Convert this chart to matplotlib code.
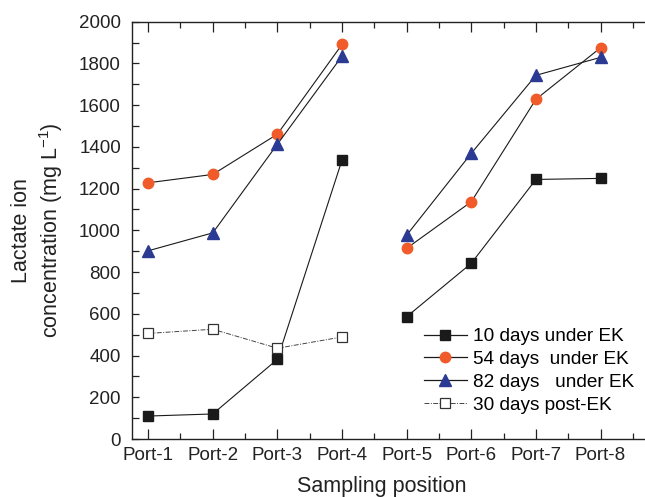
import numpy as np
import matplotlib
matplotlib.use("Agg")
import matplotlib.pyplot as plt
from matplotlib.lines import Line2D
from matplotlib.ticker import MultipleLocator

plt.rcParams["font.family"] = ["Liberation Sans", "DejaVu Sans"]
plt.rcParams["mathtext.fontset"] = "custom"
plt.rcParams["mathtext.rm"] = "Liberation Sans"
plt.rcParams["mathtext.it"] = "Liberation Sans:italic"

ports = ["Port-1", "Port-2", "Port-3", "Port-4", "Port-5", "Port-6", "Port-7", "Port-8"]
days10 = [110, 120, 382, 1337, 586, 842, 1244, 1249]
days54 = [1228, 1268, 1461, 1891, 914, 1137, 1628, 1875]
days82 = [902, 988, 1413, 1835, 977, 1369, 1743, 1829]
post30 = [506, 526, 435, 489]

labels = ["10 days under EK", "54 days  under EK", "82 days   under EK", "30 days post-EK"]

orange = "#F15A29"
navy = "#2B3A92"
ink = "#1a1a1a"

fig = plt.figure(figsize=(6.45, 4.97), dpi=100)
ax = fig.add_axes([132 / 645, 1 - 439 / 497, (649 - 132) / 645, (439 - 21.7) / 497])

x = np.arange(1, len(ports) + 1)
groups = [slice(0, 4), slice(4, 8)]

marker_styles = [
    dict(marker="s", markerfacecolor=ink, markeredgecolor=ink, markersize=6.5),
    dict(marker="o", markerfacecolor=orange, markeredgecolor=orange, markersize=7.5),
    dict(marker="^", markerfacecolor=navy, markeredgecolor=navy, markersize=8),
]
series = [days10, days54, days82]

# EK series: the line is broken between Port-4 and Port-5
for vals, ms in zip(series, marker_styles):
    vals = np.asarray(vals)
    for g in groups:
        ax.plot(x[g], vals[g], linestyle="-", linewidth=0.8, color=ink, zorder=3, **ms)

post_style = dict(linestyle=(0, (5, 1.5, 1, 1.5)), linewidth=0.7, color="#444444",
                  marker="s", markerfacecolor="white", markeredgecolor="#333333",
                  markeredgewidth=0.9, markersize=6.5)
ax.plot(x[:len(post30)], post30, zorder=3, **post_style)

handles = [Line2D([], [], linestyle="-", linewidth=0.9, color=ink, **ms)
           for ms in marker_styles]
handles.append(Line2D([], [], **post_style))
ax.legend(handles, labels, loc="upper left",
          bbox_to_anchor=(424 / 645, 1 - 328 / 497), bbox_transform=fig.transFigure,
          frameon=False, fontsize=13.7, handlelength=2.25, handletextpad=0.3,
          labelspacing=0.29, borderpad=0, borderaxespad=0)

ax.set_xlim(0.75, 8.75)
ax.set_ylim(0, 2000)
ax.set_xticks(x)
ax.set_xticklabels(ports)
ax.xaxis.set_minor_locator(MultipleLocator(0.5))
ax.yaxis.set_major_locator(MultipleLocator(200))
ax.yaxis.set_minor_locator(MultipleLocator(100))

ax.tick_params(axis="both", which="both", direction="in", top=True, right=False,
               labelsize=13.5, width=0.9, colors="#222222")
ax.tick_params(axis="x", which="major", length=7, pad=6)
ax.tick_params(axis="x", which="minor", length=4)
ax.tick_params(axis="y", which="major", length=5, pad=8)
ax.tick_params(axis="y", which="minor", length=5)

for side in ["left", "bottom", "top"]:
    ax.spines[side].set_linewidth(1.0)
    ax.spines[side].set_color("#222222")
ax.spines["right"].set_visible(False)

ax.set_xlabel("Sampling position", fontsize=15.5, color="#222222")
ax.xaxis.set_label_coords((382 - 132) / 517, -0.089)
ax.xaxis.label.set_verticalalignment("top")
ax.set_ylabel("Lactate ion\nconcentration (mg L$^{-1}$)", fontsize=15.5,
              labelpad=10, color="#222222", linespacing=1.25)

fig.savefig("out.png", dpi=100)
